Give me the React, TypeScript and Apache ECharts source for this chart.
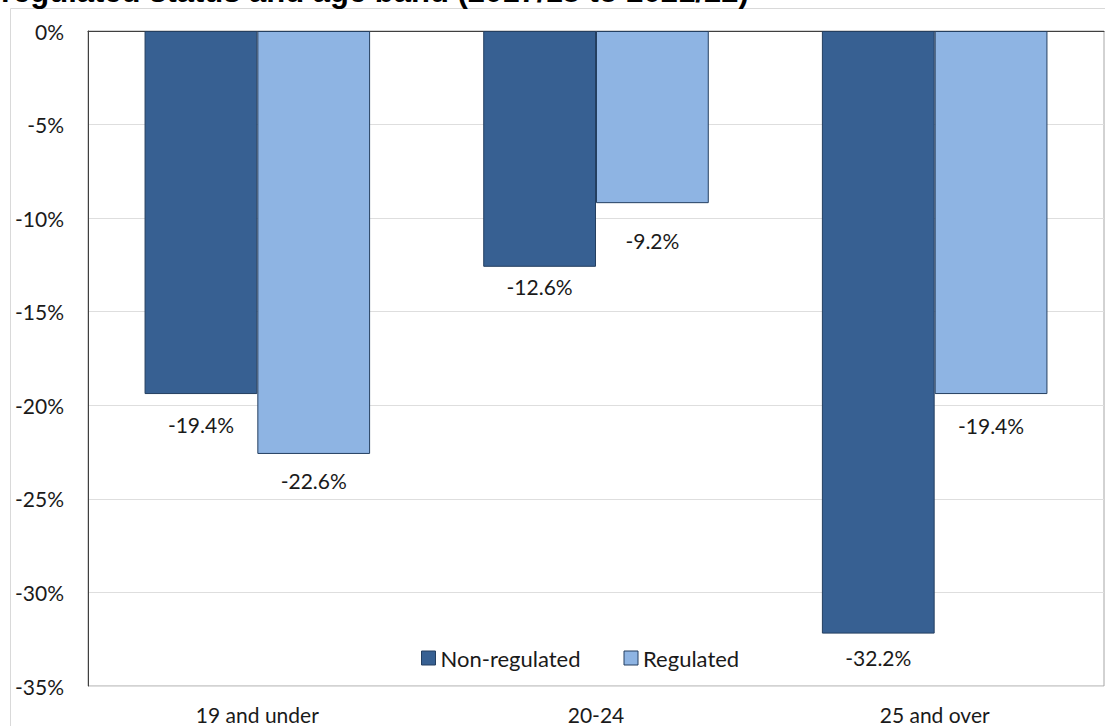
import React, { useEffect, useRef } from "react";
import * as echarts from "echarts";

const categories = ["19 and under", "20-24", "25 and over"];
const nonRegulated = [-19.4, -12.6, -32.2];
const regulated = [-22.6, -9.2, -19.4];
const yTicks = { min: -35, max: 0, interval: 5 };
const titleText = "regulated status and age band (2017/18 to 2021/22)";

// label placement (layout only, px gap below bar end)
const nonRegLabelGap = [19.5, 9, 13.5];
const regLabelGap = [16.5, 26.5, 20.5];

const FONT = "Lato";
const DARK = "#376092";
const LIGHT = "#8eb4e3";
const EDGE = "#243f60";

export default function App() {
  const ref = useRef<HTMLDivElement>(null);
  useEffect(() => {
    if (!ref.current) return;
    const chart = echarts.init(ref.current, null, { renderer: "svg" });
    const label = {
      show: true,
      position: "bottom",
      distance: 20,
      fontFamily: FONT,
      fontSize: 21,
      color: "#1a1a1a",
      formatter: (p: any) => `${Number(p.value).toFixed(1)}%`,
    };
    const withGaps = (vals: number[], gaps: number[]) =>
      vals.map((v, i) => ({ value: v, label: { distance: gaps[i] } }));
    chart.setOption({
      animation: false,
      backgroundColor: "#ffffff",
      textStyle: { fontFamily: FONT },
      graphic: [
        {
          type: "rect",
          shape: { x: 10.5, y: 8.5, width: 1200, height: 800 },
          style: { fill: "none", stroke: "#d9d9d9", lineWidth: 1 },
          silent: true,
        },
        {
          type: "text",
          x: 1,
          y: -8.5,
          style: {
            text: titleText,
            font: "bold 31px 'Liberation Sans'",
            fill: "#000000",
            verticalAlign: "middle",
            align: "left",
          },
          silent: true,
        },
      ],
      grid: {
        left: 88,
        top: 31,
        right: 1,
        bottom: 40,
        show: true,
        borderColor: "#a6a6a6",
        borderWidth: 1,
        containLabel: false,
      },
      legend: {
        left: 421,
        top: 647,
        padding: 0,
        itemWidth: 14,
        itemHeight: 14,
        itemGap: 43,
        icon: "rect",
        itemStyle: { borderColor: EDGE, borderWidth: 1 },
        textStyle: { fontFamily: FONT, fontSize: 22, color: "#1a1a1a" },
        data: ["Non-regulated", "Regulated"],
      },
      xAxis: [
        {
          type: "category",
          data: categories,
          position: "bottom",
          axisLine: { show: false },
          axisTick: { show: false },
          axisLabel: {
            margin: 18,
            fontFamily: FONT,
            fontSize: 21,
            color: "#1a1a1a",
          },
        },
        {
          type: "category",
          data: categories,
          position: "top",
          axisLine: { show: true, onZero: false, lineStyle: { color: "#404040", width: 1 } },
          axisTick: { show: false },
          axisLabel: { show: false },
        },
      ],
      yAxis: {
        type: "value",
        min: yTicks.min,
        max: yTicks.max,
        interval: yTicks.interval,
        axisLine: { show: true, lineStyle: { color: "#404040", width: 1 } },
        axisTick: { show: false },
        splitLine: { show: true, lineStyle: { color: "#dedede", width: 1 } },
        axisLabel: {
          margin: 24,
          fontFamily: FONT,
          fontSize: 21,
          color: "#1a1a1a",
          formatter: (v: number) => `${v}%`,
        },
      },
      series: [
        {
          name: "Non-regulated",
          type: "bar",
          xAxisIndex: 0,
          data: withGaps(nonRegulated, nonRegLabelGap),
          barGap: "0%",
          barCategoryGap: "33.4%",
          itemStyle: { color: DARK, borderColor: EDGE, borderWidth: 1 },
          label,
        },
        {
          name: "Regulated",
          type: "bar",
          xAxisIndex: 0,
          data: withGaps(regulated, regLabelGap),
          barGap: "0%",
          barCategoryGap: "33.4%",
          itemStyle: { color: LIGHT, borderColor: EDGE, borderWidth: 1 },
          label,
        },
      ],
    });
    return () => chart.dispose();
  }, []);
  return (
    <div
      ref={ref}
      style={{ position: "absolute", left: 0, top: 0, width: 1105, height: 726 }}
    />
  );
}
